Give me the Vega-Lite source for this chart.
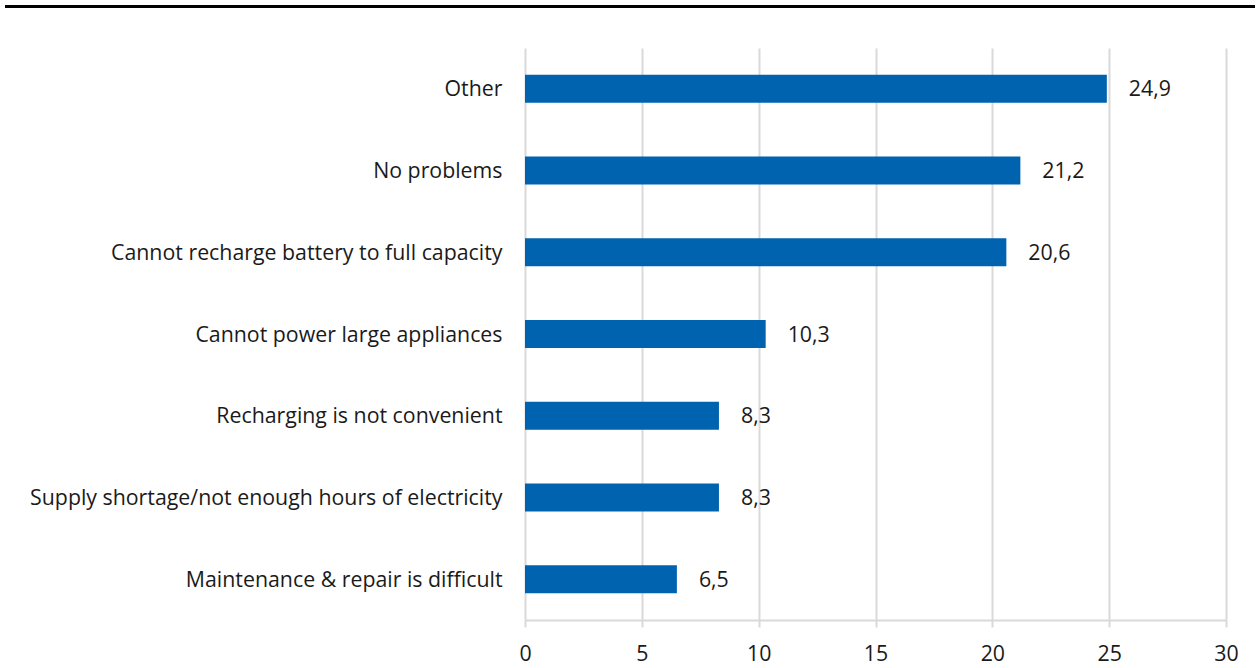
{
  "$schema": "https://vega.github.io/schema/vega-lite/v6.json",
  "width": 701,
  "height": 572,
  "autosize": {"type": "none"},
  "padding": {"left": 525, "top": 48, "right": 34, "bottom": 48},
  "background": "white",
  "config": {
    "font": "Open Sans",
    "view": {"stroke": null},
    "locale": {"number": {"decimal": ",", "thousands": ".", "grouping": [3], "currency": ["", " €"]}}
  },
  "data": {
    "values": [
      {"cat": "Other", "value": 24.9},
      {"cat": "No problems", "value": 21.2},
      {"cat": "Cannot recharge battery to full capacity", "value": 20.6},
      {"cat": "Cannot power large appliances", "value": 10.3},
      {"cat": "Recharging is not convenient", "value": 8.3},
      {"cat": "Supply shortage/not enough hours of electricity", "value": 8.3},
      {"cat": "Maintenance & repair is difficult", "value": 6.5}
    ]
  },
  "encoding": {
    "y": {
      "field": "cat",
      "type": "nominal",
      "sort": ["Other", "No problems", "Cannot recharge battery to full capacity", "Cannot power large appliances", "Recharging is not convenient", "Supply shortage/not enough hours of electricity", "Maintenance & repair is difficult"],
      "scale": {"paddingInner": 0.657, "paddingOuter": 0.3285},
      "axis": {"title": null, "ticks": false, "domain": false, "labelFontSize": 21.33, "labelColor": "#1a1a1a", "labelPadding": 23, "labelOffset": 1.5, "labelLimit": 600}
    },
    "x": {
      "field": "value",
      "type": "quantitative",
      "scale": {"domain": [0, 30]},
      "axis": {"title": null, "values": [0, 5, 10, 15, 20, 25, 30], "format": "d", "labelFlush": false, "labelFontSize": 21.33, "labelColor": "#1a1a1a", "labelPadding": 16, "tickSize": 7, "tickColor": "#d9d9d9", "tickWidth": 2, "domainColor": "#d9d9d9", "domainWidth": 2, "gridColor": "#d9d9d9", "gridWidth": 2}
    }
  },
  "layer": [
    {"mark": {"type": "bar", "color": "#0063AF"}},
    {"mark": {"type": "text", "align": "left", "dx": 22, "dy": 1.5, "fontSize": 21.33, "color": "#1a1a1a"}, "encoding": {"text": {"field": "value", "type": "quantitative", "format": ".1f"}}},
    {
      "data": {"values": [{}]},
      "mark": {"type": "rule", "color": "black", "strokeWidth": 3, "clip": false},
      "encoding": {"x": {"value": -520}, "x2": {"value": 730}, "y": {"value": -41.5}}
    }
  ]
}
